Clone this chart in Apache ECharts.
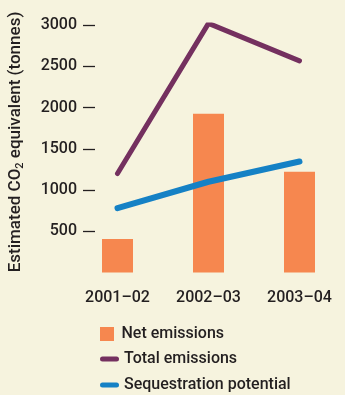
<!DOCTYPE html>
<html><head><meta charset="utf-8">
<script src="https://cdn.jsdelivr.net/npm/echarts@6/dist/echarts.min.js"></script>
<style>html,body{margin:0;padding:0;background:#F6F3DE}#c{width:345px;height:395px}</style>
</head><body><div id="c"></div>
<script>
const categories = ['2001–02', '2002–03', '2003–04'];
const netEmissions = [405, 1925, 1220];
const totalEmissions = [1200, 3020, 2565];
const sequestration = [780, 1100, 1345];
const yTicks = [500, 1000, 1500, 2000, 2500, 3000];

const FONT = 'Roboto';
const TXT = '#231f20';
const LINE_ICON = 'path://M2.5,0 H16.5 A2.5,2.5 0 0 1 16.5,5 H2.5 A2.5,2.5 0 0 1 2.5,0 Z';
const SQUARE_ICON = 'path://M0,0 H14 V14 H0 Z';
const legendText = {fontSize: 16, fontFamily: FONT, fontWeight: 500, color: TXT};
function legendRow(name, icon, top) {
  return {orient: 'horizontal', left: 100, top: top, padding: 0, itemWidth: 19, itemHeight: 14,
    textStyle: legendText, data: [{name: name, icon: icon}]};
}
const chart = echarts.init(document.getElementById('c'), null, {renderer: 'canvas'});
chart.setOption({
  backgroundColor: '#F6F3DE',
  animation: false,
  grid: {left: 72, width: 291, top: 25, bottom: 122.5, containLabel: false},
  xAxis: {
    type: 'category', data: categories, boundaryGap: true,
    axisLine: {show: false}, axisTick: {show: false},
    axisLabel: {margin: 17, fontSize: 16, fontFamily: FONT, fontWeight: 500, color: TXT}
  },
  yAxis: {
    type: 'value', min: 0, max: 3000, interval: 500, offset: -11,
    axisLine: {show: false}, splitLine: {show: false},
    axisTick: {show: true, inside: true, length: 12, customValues: yTicks, lineStyle: {color: TXT, width: 1.3}},
    axisLabel: {margin: 6, fontSize: 16, fontFamily: FONT, fontWeight: 500, color: TXT, customValues: yTicks,
      formatter: v => String(v)}
  },
  legend: [
    legendRow('Net emissions', SQUARE_ICON, 326),
    legendRow('Total emissions', LINE_ICON, 351),
    legendRow('Sequestration potential', LINE_ICON, 377)
  ],
  graphic: [{
    type: 'text', x: 16, y: 142, rotation: Math.PI / 2,
    style: {
      text: '{a|Estimated CO}{s|2}{a| equivalent (tonnes)}',
      align: 'center', verticalAlign: 'middle',
      rich: {
        a: {fontSize: 17, fontFamily: FONT, fontWeight: 500, fill: TXT},
        s: {fontSize: 11, fontFamily: FONT, fontWeight: 500, fill: TXT, padding: [8, 0, 0, 0]}
      }
    }
  }],
  series: [
    {name: 'Net emissions', type: 'bar', data: netEmissions, barWidth: 31, itemStyle: {color: '#F6874F'}},
    {name: 'Total emissions', type: 'line', data: totalEmissions, symbol: 'none', color: '#74305F',
     lineStyle: {width: 5, color: '#74305F', cap: 'round', join: 'round'}},
    {name: 'Sequestration potential', type: 'line', data: sequestration, symbol: 'none', color: '#1581C5',
     lineStyle: {width: 6, color: '#1581C5', cap: 'round', join: 'round'}}
  ]
});
</script></body></html>
